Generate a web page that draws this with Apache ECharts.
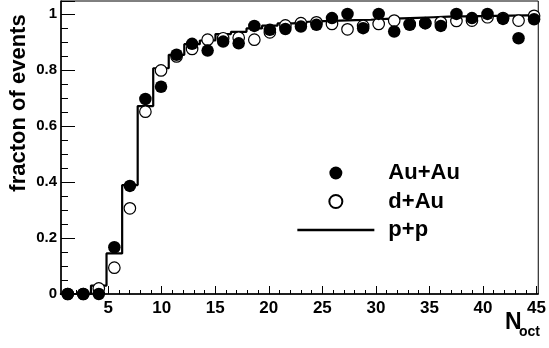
<!DOCTYPE html>
<html>
<head>
<meta charset="utf-8">
<script src="https://cdn.jsdelivr.net/npm/echarts@6/dist/echarts.min.js"></script>
<style>html,body{margin:0;padding:0;background:#fff}#c{width:549px;height:348px}</style>
</head>
<body>
<div id="c"></div>
<script>
// bin centres of N_oct
const nOct = [1.23, 2.68, 4.13, 5.58, 7.03, 8.48, 9.94, 11.39, 12.84, 14.29, 15.74, 17.19, 18.65, 20.10, 21.55, 23.00, 24.45, 25.90, 27.35, 28.81, 30.26, 31.71, 33.16, 34.61, 36.06, 37.52, 38.97, 40.42, 41.87, 43.32, 44.77];
// bin edges for the p+p histogram
const binEdges = [0.5, 1.95, 3.40, 4.85, 6.31, 7.76, 9.21, 10.66, 12.11, 13.56, 15.02, 16.47, 17.92, 19.37, 20.82, 22.27, 23.73, 25.18, 26.63, 28.08, 29.53, 30.98, 32.44, 33.89, 35.34, 36.79, 38.24, 39.69, 41.15, 42.60, 44.05, 45.50];
const auau = [0, 0, 0, 0.167, 0.386, 0.696, 0.740, 0.854, 0.893, 0.869, 0.901, 0.895, 0.957, 0.943, 0.946, 0.955, 0.961, 0.985, 1.0, 0.949, 1.0, 0.937, 0.961, 0.967, 0.957, 1.0, 0.985, 1.0, 0.982, 0.913, 0.981];
const dau = [0, 0, 0.02, 0.094, 0.306, 0.651, 0.798, 0.848, 0.875, 0.908, 0.913, 0.915, 0.908, 0.934, 0.959, 0.967, 0.970, 0.964, 0.945, 0.957, 0.964, 0.976, 0.964, 0.967, 0.970, 0.975, 0.976, 0.988, 0.985, 0.976, 0.993];
const pp = [0, 0, 0.03, 0.145, 0.389, 0.671, 0.806, 0.854, 0.892, 0.905, 0.928, 0.936, 0.948, 0.958, 0.966, 0.972, 0.974, 0.976, 0.978, 0.979, 0.982, 0.984, 0.986, 0.988, 0.990, 0.991, 0.992, 0.993, 0.994, 0.995, 0.996];
const xMajorTicks = [5, 10, 15, 20, 25, 30, 35, 40, 45];
const xMinorTicks = [1,2,3,4,6,7,8,9,11,12,13,14,16,17,18,19,21,22,23,24,26,27,28,29,31,32,33,34,36,37,38,39,41,42,43,44];
const seriesNames = ['Au+Au', 'd+Au', 'p+p'];

const FONT = '"Liberation Sans", Arial, Helvetica, sans-serif';
const chart = echarts.init(document.getElementById('c'), null, {renderer: 'canvas'});

const ppData = pp.map((v, i) => [binEdges[i], v]);
ppData.push([binEdges[binEdges.length - 1], pp[pp.length - 1]]);

const xCommon = {type: 'value', min: 0.6, max: 45.16, position: 'bottom', splitLine: {show: false}};

chart.setOption({
  animation: false,
  backgroundColor: '#fff',
  grid: {left: 61, right: 8, top: 1, bottom: 54, show: true, borderColor: '#000', borderWidth: 1, containLabel: false},
  xAxis: [
    Object.assign({}, xCommon, {
      axisLine: {show: true, lineStyle: {color: '#000', width: 1.5}},
      axisTick: {show: true, inside: true, length: 8, customValues: xMajorTicks, lineStyle: {color: '#000', width: 1}},
      axisLabel: {show: true, customValues: xMajorTicks, color: '#000', fontFamily: FONT, fontWeight: 'bold', fontSize: 17, margin: 6}
    }),
    Object.assign({}, xCommon, {
      axisLine: {show: false},
      axisTick: {show: true, inside: true, length: 4, customValues: xMinorTicks, lineStyle: {color: '#000', width: 1}},
      axisLabel: {show: false}
    })
  ],
  yAxis: {
    type: 'value', min: 0, max: 1.046, interval: 0.2,
    axisLine: {show: true, lineStyle: {color: '#000', width: 1.5}},
    axisTick: {show: true, inside: true, length: 14, lineStyle: {color: '#000', width: 1}},
    minorTick: {show: true, splitNumber: 4, length: 7, lineStyle: {color: '#000', width: 1}},
    axisLabel: {color: '#000', fontFamily: FONT, fontWeight: 'bold', fontSize: 15, margin: 4, showMaxLabel: false},
    splitLine: {show: false}, minorSplitLine: {show: false}
  },
  legend: {
    orient: 'vertical', left: 296, top: 162, padding: 0,
    itemWidth: 77, itemHeight: 13, itemGap: 6.5,
    textStyle: {color: '#000', fontFamily: FONT, fontWeight: 'bold', fontSize: 22, lineHeight: 22, padding: [0, 0, 0, 9]},
    data: [
      {name: seriesNames[0]},
      {name: seriesNames[1]},
      {name: seriesNames[2], itemStyle: {opacity: 0}, lineStyle: {width: 2.7, color: '#000'}}
    ]
  },
  series: [
    {
      name: seriesNames[2], type: 'line', step: 'end', symbol: 'none', z: 1,
      data: ppData, lineStyle: {color: '#000', width: 2.2}, itemStyle: {color: '#000'}
    },
    {
      name: seriesNames[1], type: 'scatter', symbol: 'circle', symbolSize: 11.5, z: 2, clip: false,
      data: nOct.map((x, i) => [x, dau[i]]),
      itemStyle: {color: '#fff', borderColor: '#000', borderWidth: 1.2, opacity: 1}
    },
    {
      name: seriesNames[0], type: 'scatter', symbol: 'circle', symbolSize: 12.5, z: 3, clip: false,
      data: nOct.map((x, i) => [x, auau[i]]),
      itemStyle: {color: '#000', opacity: 1}
    }
  ],
  graphic: [
    {type: 'text', x: 19, y: 103, rotation: Math.PI / 2,
     style: {text: 'fracton of events', font: 'bold 22px ' + FONT, fill: '#000', textAlign: 'center', textVerticalAlign: 'middle'}},
    {type: 'text', x: 505, y: 322.5,
     style: {text: 'N', font: 'bold 23px ' + FONT, fill: '#000', textAlign: 'left', textVerticalAlign: 'middle'}},
    {type: 'text', x: 519, y: 332,
     style: {text: 'oct', font: 'bold 14px ' + FONT, fill: '#000', textAlign: 'left', textVerticalAlign: 'middle'}}
  ]
});
</script>
</body>
</html>
